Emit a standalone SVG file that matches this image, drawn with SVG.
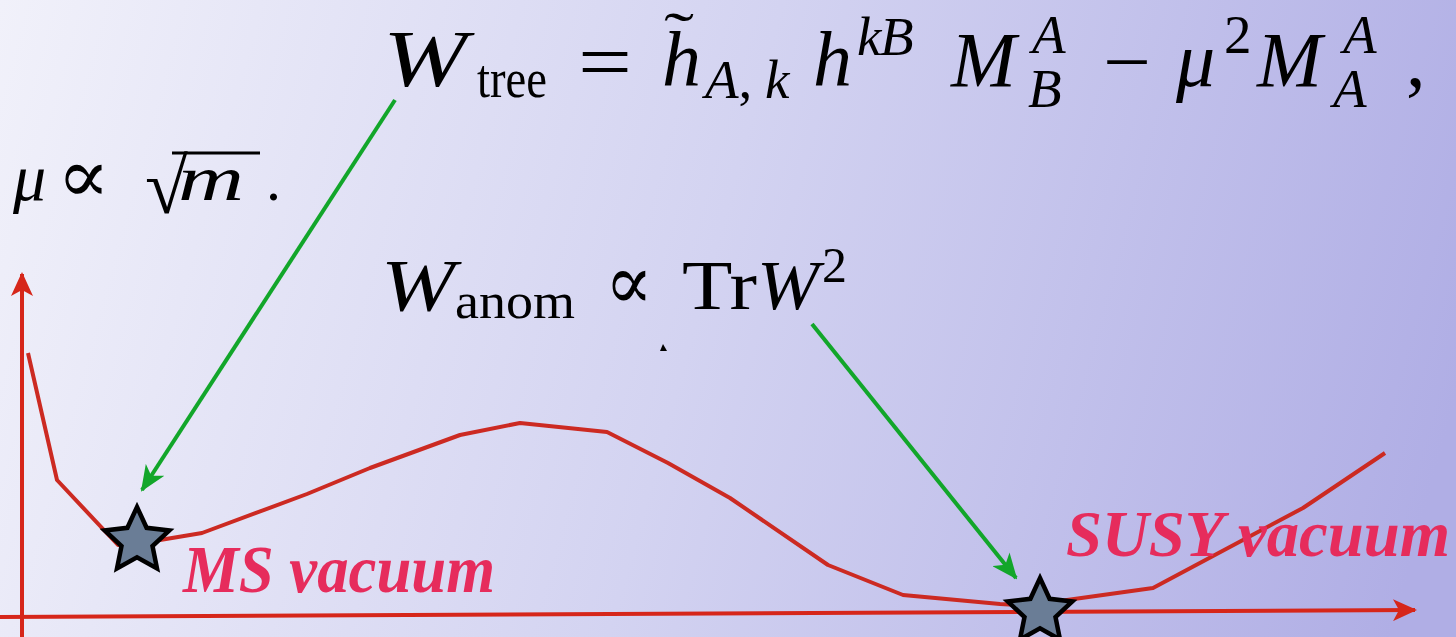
<svg xmlns="http://www.w3.org/2000/svg" width="1456" height="637" viewBox="0 0 1456 637">
  <defs>
    <linearGradient id="bg" x1="0" y1="0" x2="1456" y2="400" gradientUnits="userSpaceOnUse">
      <stop offset="0" stop-color="#f1f1fa"/>
      <stop offset="0.5" stop-color="#d3d3f1"/>
      <stop offset="1" stop-color="#b0aee5"/>
    </linearGradient>
    <marker id="garrow" viewBox="0 0 26 22" refX="24" refY="11" markerWidth="26" markerHeight="22" markerUnits="userSpaceOnUse" orient="auto">
      <path d="M0,0 L26,11 L0,22 L7,11 Z" fill="#12a62a"/>
    </marker>
    <marker id="rarrow" viewBox="0 0 24 22" refX="22" refY="11" markerWidth="24" markerHeight="22" markerUnits="userSpaceOnUse" orient="auto">
      <path d="M0,0 L24,11 L0,22 L6,11 Z" fill="#d6261a"/>
    </marker>
    <polygon id="star" points="0,-34 9.6,-13.2 32.3,-10.5 15.5,5 20,27.5 0,16.4 -20,27.5 -15.5,5 -32.3,-10.5 -9.6,-13.2"/>
  </defs>
  <style>
    .m { font-family: "Liberation Serif", "DejaVu Serif", serif; fill: #000; }
    .i { font-style: italic; }
    .lbl { font-family: "Liberation Serif", "DejaVu Serif", serif; font-style: italic; font-weight: bold; fill: #e62c5c; }
    .axis { stroke: #d6261a; stroke-width: 4; fill: none; }
    .curve { stroke: #cc2a22; stroke-width: 4; fill: none; stroke-linejoin: round; }
    .conn { stroke: #12a62a; stroke-width: 4; fill: none; }
    .st { fill: #6a7d96; stroke: #000; stroke-width: 4.5; stroke-linejoin: miter; }
  </style>

  <rect x="0" y="0" width="1456" height="637" fill="url(#bg)"/>

  <g id="axes">
    <line class="axis" x1="22" y1="637" x2="22" y2="274" marker-end="url(#rarrow)"/>
    <line class="axis" x1="0" y1="617" x2="1415" y2="610" marker-end="url(#rarrow)"/>
  </g>

  <g id="potential-curve">
    <polyline class="curve" points="28,353 57,480 118,545 160,540 202,533 307,494 370,468 460,435 520,423 607,432 668,463 730,498 828,565 903,595 1000,604 1040,606 1067,600 1153,588 1303,508 1385,453"/>
  </g>

  <g id="formula-tree">
    <text class="m i" x="383" y="86" font-size="80" textLength="84" lengthAdjust="spacingAndGlyphs">W</text>
    <text class="m" x="477" y="97" font-size="55" textLength="70" lengthAdjust="spacingAndGlyphs">tree</text>
    <text class="m" x="578" y="88" font-size="78" textLength="54" lengthAdjust="spacingAndGlyphs">=</text>
    <text class="m i" x="662" y="86" font-size="78">h</text>
    <text class="m" x="664" y="53" font-size="60" textLength="30" lengthAdjust="spacingAndGlyphs">˜</text>
    <text class="m i" x="705" y="98" font-size="55">A<tspan font-style="normal">,</tspan><tspan x="765">k</tspan></text>
    <text class="m i" x="813" y="86" font-size="78">h</text>
    <text class="m i" x="857" y="55" font-size="55">k<tspan x="880">B</tspan></text>
    <text class="m i" x="951" y="86" font-size="78">M</text>
    <text class="m i" x="1032" y="53" font-size="55">A</text>
    <text class="m i" x="1028" y="107" font-size="55">B</text>
    <text class="m" x="1103" y="88" font-size="78" textLength="48" lengthAdjust="spacingAndGlyphs">−</text>
    <text class="m i" x="1176" y="86" font-size="78">μ</text>
    <text class="m" x="1224" y="53" font-size="55">2</text>
    <text class="m i" x="1257" y="86" font-size="78">M</text>
    <text class="m i" x="1343" y="53" font-size="55">A</text>
    <text class="m i" x="1333" y="107" font-size="55">A</text>
    <text class="m" x="1406" y="86" font-size="78">,</text>
  </g>

  <g id="formula-mu">
    <text class="m i" x="13" y="200" font-size="66">μ</text>
    <text class="m" x="57" y="202" font-size="76" textLength="53" lengthAdjust="spacingAndGlyphs">∝</text>
    <text class="m" x="145" y="213" font-size="78">√</text>
    <line x1="172" y1="153" x2="260" y2="153" stroke="#000" stroke-width="3"/>
    <text class="m i" x="178" y="200" font-size="64" textLength="66" lengthAdjust="spacingAndGlyphs">m</text>
    <text class="m" x="266" y="200" font-size="60">.</text>
  </g>

  <g id="formula-anom">
    <text class="m i" x="381" y="311" font-size="74" textLength="74" lengthAdjust="spacingAndGlyphs">W</text>
    <text class="m" x="455" y="318" font-size="50" textLength="120" lengthAdjust="spacingAndGlyphs">anom</text>
    <text class="m" x="605" y="309" font-size="78" textLength="48" lengthAdjust="spacingAndGlyphs">∝</text>
    <text class="m" x="682" y="309" font-size="70" textLength="75" lengthAdjust="spacingAndGlyphs">Tr</text>
    <text class="m i" x="757" y="309" font-size="70" textLength="62" lengthAdjust="spacingAndGlyphs">W</text>
    <text class="m" x="822" y="282" font-size="50">2</text>
    <polygon points="663,344 660,351 667,351" fill="#000"/>
  </g>

  <g id="connectors">
    <line class="conn" x1="395" y1="100" x2="142" y2="490" marker-end="url(#garrow)"/>
    <line class="conn" x1="812" y1="324" x2="1016" y2="578" marker-end="url(#garrow)"/>
  </g>

  <g id="ms-vacuum">
    <use href="#star" class="st" x="137" y="541"/>
    <text class="lbl" x="183" y="592" font-size="68" textLength="312" lengthAdjust="spacingAndGlyphs">MS vacuum</text>
  </g>

  <g id="susy-vacuum">
    <use href="#star" class="st" x="1040" y="612"/>
    <text class="lbl" x="1066" y="556" font-size="66" textLength="384" lengthAdjust="spacingAndGlyphs">SUSY vacuum</text>
  </g>
</svg>
